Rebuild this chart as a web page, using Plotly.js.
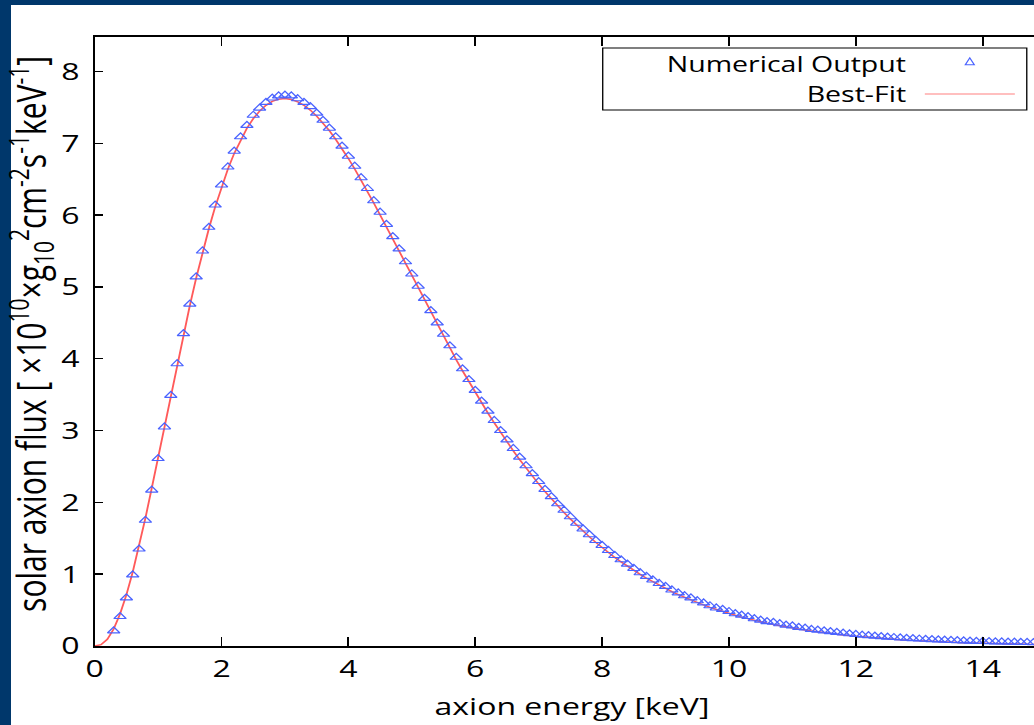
<!DOCTYPE html>
<html>
<head>
<meta charset="utf-8">
<script src="https://cdn.plot.ly/plotly-3.0.1.min.js"></script>
<style>
html, body { margin:0; padding:0; width:1034px; height:725px; overflow:hidden; background:#00376b; }
#bg { position:absolute; left:11px; top:5px; right:0; bottom:0; background:#fff; }
#chart { position:absolute; left:0; top:0; width:808px; height:725px; transform:scaleX(1.3333); transform-origin:0 0; }
</style>
</head>
<body>
<div id="bg"></div>
<div id="chart"></div>
<script>
// axion energy grid [keV]
const energy = [0,0.1,0.2,0.3,0.4,0.5,0.6,0.7,0.8,0.9,1.0,1.1,1.2,1.3,1.4,1.5,1.6,1.7,1.8,1.9,
2.0,2.1,2.2,2.3,2.4,2.5,2.6,2.7,2.8,2.9,3.0,3.1,3.2,3.3,3.4,3.5,3.6,3.7,3.8,3.9,
4.0,4.1,4.2,4.3,4.4,4.5,4.6,4.7,4.8,4.9,5.0,5.1,5.2,5.3,5.4,5.5,5.6,5.7,5.8,5.9,
6.0,6.1,6.2,6.3,6.4,6.5,6.6,6.7,6.8,6.9,7.0,7.1,7.2,7.3,7.4,7.5,7.6,7.7,7.8,7.9,
8.0,8.1,8.2,8.3,8.4,8.5,8.6,8.7,8.8,8.9,9.0,9.1,9.2,9.3,9.4,9.5,9.6,9.7,9.8,9.9,
10.0,10.1,10.2,10.3,10.4,10.5,10.6,10.7,10.8,10.9,11.0,11.1,11.2,11.3,11.4,11.5,11.6,11.7,11.8,11.9,
12.0,12.1,12.2,12.3,12.4,12.5,12.6,12.7,12.8,12.9,13.0,13.1,13.2,13.3,13.4,13.5,13.6,13.7,13.8,13.9,
14.0,14.1,14.2,14.3,14.4,14.5,14.6,14.7,14.8,14.9,15.0];

// Numerical Output (triangles)
const numericalOutput = [null,null,null,0.21,0.41,0.67,0.99,1.35,1.75,2.17,
2.61,3.05,3.49,3.93,4.35,4.76,5.14,5.50,5.83,6.14,
6.42,6.67,6.89,7.09,7.25,7.39,7.49,7.57,7.63,7.66,
7.67,7.66,7.62,7.57,7.51,7.42,7.32,7.21,7.09,6.96,
6.82,6.68,6.52,6.37,6.20,6.04,5.87,5.70,5.53,5.35,
5.18,5.01,4.84,4.67,4.50,4.34,4.18,4.02,3.86,3.71,
3.56,3.41,3.27,3.14,3.00,2.87,2.75,2.63,2.51,2.40,
2.29,2.18,2.08,1.98,1.89,1.80,1.71,1.63,1.55,1.47,
1.40,1.33,1.26,1.20,1.14,1.08,1.02,0.97,0.92,0.87,
0.83,0.78,0.74,0.70,0.67,0.63,0.60,0.56,0.53,0.51,
0.48,0.45,0.43,0.41,0.38,0.36,0.34,0.33,0.31,0.29,
0.28,0.26,0.25,0.23,0.22,0.21,0.20,0.19,0.18,0.17,
0.16,0.15,0.145,0.137,0.131,0.124,0.118,0.112,0.107,0.102,
0.097,0.093,0.088,0.085,0.081,0.077,0.074,0.071,0.068,0.065,
0.063,0.060,0.058,0.056,0.054,0.052,0.051,0.049,0.047,0.046,0.045];

// Best-Fit curve
const bestFit = [0,0.018,0.094,0.237,0.445,0.712,1.030,1.390,1.782,2.197,
2.625,3.061,3.496,3.924,4.341,4.741,5.121,5.478,5.810,6.115,
6.392,6.640,6.859,7.049,7.210,7.343,7.449,7.528,7.583,7.614,
7.623,7.610,7.578,7.528,7.461,7.379,7.283,7.175,7.055,6.925,
6.787,6.641,6.489,6.331,6.169,6.003,5.835,5.664,5.493,5.321,
5.149,4.977,4.807,4.638,4.472,4.307,4.145,3.987,3.831,3.678,
3.530,3.385,3.243,3.106,2.972,2.843,2.718,2.596,2.479,2.366,
2.256,2.151,2.050,1.952,1.858,1.768,1.682,1.599,1.520,1.443,
1.371,1.301,1.234,1.171,1.110,1.052,0.997,0.944,0.894,0.846,
0.801,0.757,0.716,0.677,0.640,0.605,0.571,0.539,0.509,0.481,
0.453,0.428,0.403,0.380,0.359,0.338,0.318,0.300,0.283,0.266,
0.251,0.236,0.222,0.209,0.196,0.185,0.174,0.163,0.154,0.144,
0.136,0.127,0.120,0.112,0.106,0.099,0.093,0.087,0.082,0.077,
0.072,0.068,0.063,0.060,0.056,0.052,0.049,0.046,0.043,0.040,
0.038,0.035,0.033,0.031,0.029,0.027,0.026,0.024,0.022,0.021,0.020];

const xTickVals = [0,2,4,6,8,10,12,14];
const yTickVals = [0,1,2,3,4,5,6,7,8];
const legendLabels = ['Numerical Output', 'Best-Fit'];
const yTitleText = 'solar axion flux [ ×10<sup>10</sup>×g<sub>10</sub><sup>2</sup>cm<sup>-2</sup>s<sup>-1</sup>keV<sup>-1</sup>]';

const FONT = 'Open Sans, Noto Sans, sans-serif';
const BLUE = '#4a63ff';
const RED = '#ff5a5a';

const traces = [
  {
    x: energy, y: bestFit, type: 'scatter', mode: 'lines',
    name: legendLabels[1], line: {color: RED, width: 1.4}, showlegend: false
  },
  {
    x: energy, y: numericalOutput, type: 'scatter', mode: 'markers',
    name: legendLabels[0], cliponaxis: false,
    marker: {symbol: 'triangle-up-open', size: 8, color: BLUE, line: {color: BLUE, width: 1.1}},
    showlegend: false
  }
];

const axisCommon = {
  showline: true, linecolor: '#000', linewidth: 1.6,
  mirror: 'ticks', ticks: 'inside', tickcolor: '#000', tickwidth: 1.4,
  showgrid: false, zeroline: false,
  tickfont: {family: FONT, size: 24, color: '#000'}
};

const layout = {
  width: 808, height: 725,
  margin: {l: 71, r: 21, t: 37, b: 79},
  paper_bgcolor: 'rgba(0,0,0,0)', plot_bgcolor: '#fff',
  showlegend: false,
  xaxis: Object.assign({}, axisCommon, {
    range: [0, 15.05], tickvals: xTickVals, ticktext: xTickVals.map(String),
    ticklen: 9, ticklabelstandoff: 1,
    title: {text: 'axion energy [keV]', font: {family: FONT, size: 24, color: '#000'}, standoff: 15}
  }),
  yaxis: Object.assign({}, axisCommon, {
    range: [0, 8.48], tickvals: yTickVals, ticktext: yTickVals.map(String),
    ticklen: 6, ticklabelstandoff: 5
  }),
  shapes: [
    {type: 'rect', xref: 'paper', yref: 'paper', x0: 0.5322, x1: 0.9764, y0: 0.8801, y1: 0.9819,
     line: {color: '#000', width: 1}, fillcolor: '#fff', layer: 'below'},
    {type: 'line', xref: 'paper', yref: 'paper', x0: 0.8696, x1: 0.9639, y0: 0.9064, y1: 0.9064,
     line: {color: '#ffaaaa', width: 1.5}},
    {type: 'path', xref: 'paper', yref: 'paper',
     path: 'M 0.9120 0.9543 L 0.9214 0.9543 L 0.9167 0.9658 Z',
     line: {color: BLUE, width: 1}}
  ],
  annotations: [
    {xref: 'paper', yref: 'paper', x: -0.0665, y: 0.513, xanchor: 'center', yanchor: 'middle',
     textangle: -90, text: yTitleText, showarrow: false, font: {family: FONT, size: 30, color: '#000'}},
    {xref: 'paper', yref: 'paper', x: 0.8528, y: 0.9573, xanchor: 'right', yanchor: 'middle',
     text: legendLabels[0], showarrow: false, font: {family: FONT, size: 21.4, color: '#000'}},
    {xref: 'paper', yref: 'paper', x: 0.8528, y: 0.9080, xanchor: 'right', yanchor: 'middle',
     text: legendLabels[1], showarrow: false, font: {family: FONT, size: 21.4, color: '#000'}}
  ]
};

Plotly.newPlot('chart', traces, layout, {displayModeBar: false, staticPlot: true});
</script>
</body>
</html>
